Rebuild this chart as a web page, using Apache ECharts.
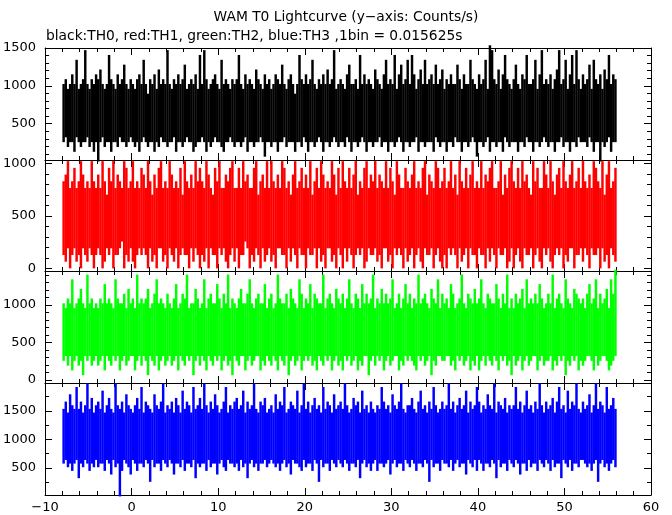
<!DOCTYPE html>
<html><head><meta charset="utf-8">
<script src="https://cdn.jsdelivr.net/npm/echarts@6/dist/echarts.min.js"></script>
<style>html,body{margin:0;padding:0;background:#fff}#c{width:672px;height:515px}</style>
</head><body><div id="c"></div>
<script>
// time of first column (s) and column width (s); each column holds the min/max rate (counts/s) of its 16 bins
const T_START = -8;
const COL = 0.25;

const blackHi = [
1024,1088,960,1024,1152,1024,1344,960,1024,1088,1472,1024,960,1088,1024,1152,
1088,1216,1024,960,1024,1408,1088,1024,960,1152,1024,1088,1280,1024,960,1088,
1024,960,1088,1152,1024,1344,1024,896,1088,1024,1152,960,1216,1024,1088,1024,
1472,1024,960,1088,1024,1152,1024,1088,1280,960,1024,1088,1024,1152,960,1408,
1024,1472,1088,960,1024,1088,1152,1024,960,1344,1024,1088,1024,960,1088,1024,
1088,1408,1024,960,1152,1024,1088,1024,960,1216,1088,1024,960,1152,1024,1088,
960,1024,1152,1088,1024,1280,1024,960,1088,1152,1024,896,1024,1408,1088,1024,
1152,1024,1088,1344,1024,960,1088,1024,1152,1024,1216,1024,1088,1472,960,1024,
1088,1024,960,1152,1280,1024,1024,1088,960,1408,1024,1152,1024,1088,1024,960,
1216,1088,1024,960,1152,1344,1024,1088,1024,1408,960,1152,1280,1024,1088,1344,
1024,1408,1152,960,1088,1216,1024,1344,1024,1088,1152,1024,1280,1024,1088,1216,
960,1088,1024,1152,1024,1024,1280,1088,960,1152,1024,1024,1344,1088,1024,960,
1152,1024,1088,1344,960,1536,1472,1088,1024,1216,960,1152,1408,1088,1024,960,
1088,1280,1024,960,1152,1088,1408,1024,1024,1088,1344,960,1152,1472,1024,1088,
1024,1152,960,1088,1216,1472,1024,1088,1344,960,1152,1408,1024,1472,1088,960,
1152,1024,1088,1280,960,1344,1088,1024,1152,960,1216,1088,1408,1024,1152,1088];
const blackLo = [
256,320,192,256,256,128,320,256,192,256,256,320,192,256,128,256,
0,256,320,192,256,256,128,256,256,192,320,256,256,192,256,320,
256,192,256,128,256,320,256,192,256,256,128,256,192,320,256,256,
192,256,256,320,128,256,256,192,256,320,256,256,128,192,256,256,
320,256,128,256,192,256,320,256,256,192,128,256,256,320,256,192,
256,256,192,256,320,128,256,256,192,256,256,320,256,64,256,256,
192,256,256,128,256,256,320,192,256,256,256,128,256,256,192,320,
256,128,256,256,192,256,320,256,128,256,256,192,256,320,256,192,
256,256,192,320,256,128,256,256,192,256,320,256,128,256,256,192,
256,256,320,192,256,256,128,256,256,192,256,320,256,128,256,256,
192,256,256,320,128,256,256,192,256,256,256,128,320,256,192,256,
256,128,256,256,192,320,256,256,128,256,256,192,256,320,256,64,
256,256,192,256,320,128,256,256,192,256,256,128,320,256,192,256,
256,256,128,256,256,192,320,256,256,128,256,256,192,256,320,256,
192,256,256,128,256,256,320,192,256,256,128,256,256,192,320,256,
256,256,192,320,256,128,256,256,0,256,192,256,320,128,256,256];

const redHi = [
832,896,1024,768,832,960,768,832,1024,896,768,832,768,1024,832,768,
896,768,1024,832,704,960,832,1024,768,896,832,768,1024,960,768,832,
1024,768,832,768,960,896,768,1024,832,704,896,768,960,1024,768,832,
768,1024,896,768,832,768,960,704,1024,832,768,896,768,1024,832,960,
832,768,1024,896,768,704,960,832,1024,768,768,896,832,960,1024,768,
768,960,768,1024,832,896,768,768,960,1024,704,832,896,768,1024,768,
1024,832,768,896,768,1024,960,768,832,704,896,1024,768,832,960,768,
896,768,1024,704,832,960,768,1024,896,768,832,768,1024,896,704,960,
768,1024,832,768,960,768,896,1024,704,832,768,960,1024,768,896,832,
1024,768,896,832,768,1024,768,960,832,704,1024,896,768,768,960,832,
768,896,1024,768,832,768,960,1024,704,896,832,768,1024,960,768,832,
960,768,832,1024,768,896,704,1024,832,768,960,768,896,1024,768,832,
768,1024,768,896,832,960,1024,768,768,832,1024,704,896,768,960,1024,
832,768,960,768,1024,832,896,768,704,1024,832,960,768,768,1024,896,
768,1024,832,704,896,960,768,1024,832,768,896,1024,768,832,960,768,
1024,832,768,896,768,1024,960,832,768,1024,704,896,1024,768,832,960];
const redLo = [
128,64,192,0,128,192,64,128,0,192,128,64,192,128,0,128,
192,128,0,64,192,128,192,0,128,128,192,256,0,128,64,192,
64,0,128,192,128,192,128,0,192,64,128,0,192,192,64,128,
0,192,128,64,192,0,128,192,128,128,0,192,64,192,128,0,
128,64,192,0,192,128,128,0,192,128,192,64,0,128,192,64,
192,0,128,128,256,192,0,128,64,192,128,0,192,64,128,192,
64,128,0,192,192,128,128,0,192,64,192,128,0,192,128,128,
0,192,128,128,192,0,192,64,128,0,192,192,64,128,0,192,
128,0,192,64,192,128,0,128,192,128,192,0,64,192,128,128,
192,64,128,0,192,192,64,128,0,192,128,192,128,0,192,64,
128,192,0,128,192,64,0,192,128,128,192,0,128,192,64,0,
128,0,192,128,192,128,0,192,64,128,192,0,192,128,128,0,
192,128,128,0,192,64,192,128,0,192,128,128,192,0,64,192,
0,128,192,64,0,192,128,128,192,0,128,192,64,0,192,128,
192,64,0,128,192,128,192,0,128,64,192,192,0,128,128,192,
64,192,128,0,192,128,128,192,0,192,64,128,0,192,128,64];

const greenHi = [
1024,960,1088,1024,1344,960,1024,1088,1216,1024,960,1408,1024,1088,960,1024,
960,1088,1024,1280,1024,1088,1024,960,1344,1088,1024,1024,1152,960,1216,1024,
1088,960,1408,1024,1088,1024,1088,1216,960,1024,1152,1344,1024,1088,1024,960,
1152,1024,960,1088,1280,960,1024,1152,1088,1408,960,1024,1024,1216,1088,960,
1024,1344,960,1088,1152,1024,1024,1280,1088,960,1152,1024,1408,960,1088,1024,
960,1088,1216,1024,1024,1152,1344,1024,960,1088,1152,1024,1024,1280,960,1088,
1152,960,1024,1408,1088,1024,1024,1152,960,1216,1088,1024,960,1344,1152,960,
1088,1024,1280,960,1152,1088,1024,1024,1408,960,1088,1152,1024,960,1216,1088,
1024,1152,960,1088,1344,1024,960,1152,1088,960,1280,1024,1152,1024,1088,1408,
960,1088,1024,1216,1024,1152,1024,1088,1344,960,1024,1152,960,1088,1280,1024,
1152,960,1088,1024,1408,1024,1088,1152,1024,960,1216,1088,1024,1344,960,1152,
1024,1088,960,1280,1152,960,1024,1088,1408,1024,960,1152,1088,1024,1216,1024,
1088,1344,1024,960,1152,1088,1024,1024,1280,1088,960,1152,1024,1408,960,1088,
960,1152,1024,1088,1216,960,1344,1024,1088,1024,1152,1024,1280,1088,960,1024,
1152,1024,1408,960,1088,1152,1024,960,1344,1088,1024,960,1216,1152,1088,1024,
1088,960,1152,1280,1024,1088,1344,960,1152,1024,1088,1216,960,1344,1152,1472];
const greenLo = [
256,320,192,320,128,256,320,192,256,64,320,256,320,192,256,320,
192,256,320,128,320,256,192,320,256,320,128,256,320,192,256,320,
320,128,256,320,192,320,256,64,320,256,192,320,128,256,320,192,
256,320,192,256,320,128,320,256,192,320,256,320,64,256,320,192,
320,256,128,320,256,192,320,256,320,128,256,320,192,256,64,320,
256,192,320,320,128,256,320,192,256,320,320,128,256,192,320,256,
192,320,256,128,320,256,192,320,64,256,320,192,256,320,128,256,
320,256,320,192,256,128,320,256,192,320,256,320,128,256,320,192,
256,128,320,256,320,192,256,320,128,256,192,320,320,64,256,320,
192,320,256,320,128,256,320,192,256,320,320,128,256,192,320,256,
320,256,192,128,320,256,320,192,256,320,64,256,192,320,320,256,
256,320,320,192,256,128,320,256,320,192,256,320,128,256,192,320,
128,256,320,192,320,256,192,320,256,128,320,256,320,192,256,64,
320,192,256,320,128,256,320,192,256,320,320,128,256,320,192,256,
256,320,128,256,192,320,256,320,64,256,192,320,256,320,128,256,
192,256,320,320,256,128,320,192,256,320,320,256,128,192,256,320];

const blueHi = [
1536,1664,1472,1792,1600,1536,1920,1536,1664,1472,1600,1984,1536,1728,1472,1600,
1664,1536,1856,1472,1600,1728,1536,1472,1984,1600,1536,1664,1472,1792,1600,1536,
1472,1600,1728,1536,1920,1472,1664,1600,1536,1472,1792,1600,1536,1664,1984,1472,
1600,1536,1664,1472,1728,1600,1472,1856,1536,1664,1600,1472,1920,1536,1600,1728,
1536,1984,1600,1472,1664,1536,1792,1600,1472,1536,1664,1920,1472,1600,1536,1664,
1728,1536,1600,1856,1472,1664,1536,1600,1984,1536,1472,1664,1600,1728,1472,1536,
1600,1472,1792,1536,1664,1600,1920,1472,1536,1664,1600,1536,1856,1472,1600,1984,
1536,1664,1472,1600,1728,1536,1600,1472,1920,1536,1664,1600,1472,1792,1536,1600,
1664,1536,1984,1600,1472,1536,1728,1600,1664,1472,1856,1536,1600,1472,1664,1536,
1472,1600,1536,1920,1664,1536,1600,1472,1792,1600,1536,1664,1984,1536,1472,1600,
1600,1728,1536,1472,1664,1856,1536,1600,1472,1664,1536,1920,1600,1472,1536,1664,
1536,1600,1984,1536,1664,1472,1600,1728,1536,1600,1856,1472,1664,1536,1600,1920,
1664,1472,1600,1536,1792,1600,1536,1984,1472,1664,1600,1536,1728,1472,1600,1536,
1600,1920,1536,1664,1472,1600,1856,1536,1600,1472,1664,1536,1984,1600,1472,1664,
1536,1600,1728,1472,1664,1920,1536,1600,1472,1856,1536,1664,1600,1984,1536,1472,
1664,1536,1600,1792,1472,1600,1984,1536,1664,1600,1472,1920,1536,1600,1728,1536];
const blueLo = [
576,640,512,576,448,576,640,320,576,512,640,576,448,576,512,640,
512,576,576,448,640,576,384,640,512,576,0,448,640,576,512,384,
640,576,448,576,576,512,640,576,256,640,512,576,576,448,640,576,
512,640,576,384,576,576,512,640,448,576,576,512,640,320,576,512,
576,576,448,640,512,576,576,384,576,640,512,448,640,576,576,512,
576,448,640,512,576,320,576,640,512,576,448,576,576,640,512,576,
640,576,512,576,448,576,640,512,576,384,640,576,576,512,448,640,
512,576,576,448,640,576,256,640,512,576,576,448,640,576,512,640,
576,512,640,576,448,576,576,512,640,320,576,640,512,576,448,576,
640,448,576,576,512,576,640,384,576,640,512,576,576,448,640,576,
512,640,576,448,576,576,512,640,576,256,640,512,576,576,448,640,
576,576,512,640,448,576,640,512,576,576,384,640,576,512,640,448,
640,576,448,576,576,512,640,576,320,640,512,576,576,448,640,576,
512,640,576,384,576,576,448,640,512,576,576,448,640,576,512,640,
576,448,640,512,576,576,320,640,576,512,640,448,576,576,512,640,
640,576,512,576,448,576,640,256,576,640,512,576,448,576,640,512];

const titleText = 'WAM T0 Lightcurve (y\u2212axis: Counts/s)';
const subText = 'black:TH0, red:TH1, green:TH2, blue:TH3 ,1bin = 0.015625s';
const xTicks = [-10, 0, 10, 20, 30, 40, 50, 60];
const yLabels = [[500, 1000, 1500], [0, 500, 1000], [0, 500, 1000], [500, 1000, 1500]];
const yMinor = [
  [100,200,300,400,600,700,800,900,1100,1200,1300,1400],
  [100,200,300,400,600,700,800,900],
  [100,200,300,400,600,700,800,900,1100,1200,1300,1400],
  [250,750,1250,1750]
];
const yRange = [[20, 1500], [-25, 1035], [-40, 1455], [25, 1990]];
const colors = ['#000000', '#ff0000', '#00ff00', '#0000ff'];
const his = [blackHi, redHi, greenHi, blueHi];
const los = [blackLo, redLo, greenLo, blueLo];

const tops = [48, 160, 271, 383];
const heights = [112, 111, 112, 112];
const FONT = 'DejaVu Sans';

const grid = [], xAxis = [], yAxis = [], series = [];
const black = '#000';
const fmt = v => (v < 0 ? '\u2212' + Math.abs(v) : String(v));

for (let k = 0; k < 4; k++) {
  grid.push({left: 45, right: 21, top: tops[k], height: heights[k]});
  ['bottom', 'top'].forEach(pos => {
    xAxis.push({
      gridIndex: k, type: 'value', position: pos, min: xTicks[0], max: xTicks[xTicks.length - 1], interval: 10,
      axisLine: {show: true, onZero: false, lineStyle: {color: black, width: 1}},
      axisTick: {show: true, inside: true, length: 7, lineStyle: {color: black, width: 1}},
      minorTick: {show: true, splitNumber: 5, length: 4, lineStyle: {color: black, width: 1}},
      splitLine: {show: false}, minorSplitLine: {show: false},
      axisLabel: {show: pos === 'bottom' && k === 3, color: black, fontSize: 13, fontFamily: FONT, margin: 6, formatter: fmt}
    });
  });
  ['left', 'right'].forEach(pos => {
    yAxis.push({
      gridIndex: k, type: 'value', position: pos, min: yRange[k][0], max: yRange[k][1],
      axisLine: {show: true, onZero: false, lineStyle: {color: black, width: 1}},
      axisTick: {show: true, inside: true, length: 7, customValues: yLabels[k], lineStyle: {color: black, width: 1}},
      splitLine: {show: false},
      axisLabel: {show: pos === 'left', customValues: yLabels[k], color: black, fontSize: 13, fontFamily: FONT, margin: 9, formatter: fmt}
    });
    yAxis.push({
      gridIndex: k, type: 'value', position: pos, min: yRange[k][0], max: yRange[k][1],
      axisLine: {show: false, onZero: false},
      axisTick: {show: true, inside: true, length: 4, customValues: yMinor[k], lineStyle: {color: black, width: 1}},
      splitLine: {show: false},
      axisLabel: {show: false}
    });
  });
  const data = his[k].map((h, i) => [T_START + i * COL, los[k][i], h]);
  const col = colors[k];
  series.push({
    type: 'custom', xAxisIndex: k * 2, yAxisIndex: k * 4, clip: false, silent: true,
    data: data, encode: {x: 0, y: [1, 2]},
    renderItem: function (params, api) {
      const t = api.value(0), lo = api.value(1), hi = api.value(2);
      const a = api.coord([t, hi]);
      const b = api.coord([t + COL, lo]);
      return {type: 'rect', shape: {x: a[0], y: a[1], width: b[0] - a[0] + 0.3, height: b[1] - a[1]}, style: {fill: col}};
    }
  });
}

const chart = echarts.init(document.getElementById('c'), null, {renderer: 'canvas'});
chart.setOption({
  animation: false,
  backgroundColor: '#fff',
  grid, xAxis, yAxis, series,
  graphic: [
    {type: 'text', x: 346, y: 17, style: {text: titleText, textAlign: 'center', textVerticalAlign: 'middle', fill: black, font: '13.8px "DejaVu Sans"'}},
    {type: 'text', x: 46, y: 36, style: {text: subText, textAlign: 'left', textVerticalAlign: 'middle', fill: black, font: '13.8px "DejaVu Sans"'}}
  ]
});
</script></body></html>
